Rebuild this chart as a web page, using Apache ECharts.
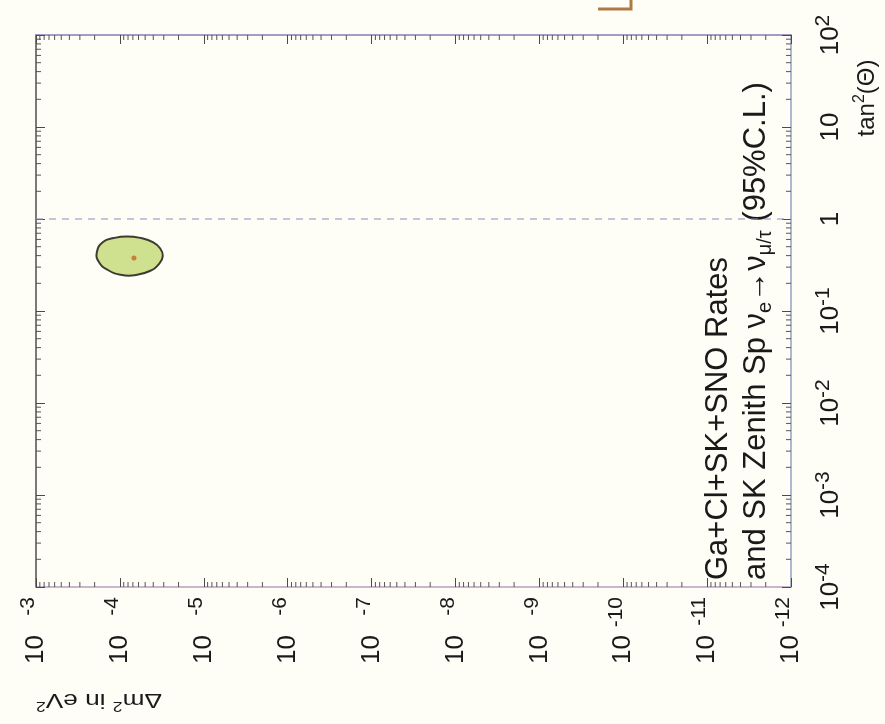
<!DOCTYPE html>
<html>
<head>
<meta charset="utf-8">
<script src="https://cdn.jsdelivr.net/npm/echarts@6/dist/echarts.min.js"></script>
<style>
  html, body { margin: 0; padding: 0; background: #fefdf6; }
  #chart { width: 885px; height: 724px; }
</style>
</head>
<body>
<div id="chart"></div>
<script>
// 95% C.L. allowed region (Δm² in eV², tan²θ), traced clockwise
const contourDm2  = [1.88e-4, 1.59e-4, 1.18e-4, 8.26e-5, 5.6e-5, 4.05e-5, 3.34e-5, 3.08e-5, 3.43e-5, 4.4e-5, 6.45e-5, 9.46e-5, 1.39e-4, 1.78e-4];
const contourTan2 = [0.437, 0.562, 0.621, 0.646, 0.621, 0.562, 0.484, 0.396, 0.324, 0.272, 0.246, 0.246, 0.279, 0.341];
// best-fit point
const bestFitDm2 = 6.8e-5;
const bestFitTan2 = 0.377;
// maximal mixing reference line
const maximalMixingTan2 = 1;
// axis ranges
const dm2Min = 1e-12, dm2Max = 1e-3;
const tan2Min = 1e-4, tan2Max = 1e2;
// tick labels: exponent -> [base, superscript]
const dm2TickLabels = {
  '-3': ['10', '-3'], '-4': ['10', '-4'], '-5': ['10', '-5'], '-6': ['10', '-6'], '-7': ['10', '-7'],
  '-8': ['10', '-8'], '-9': ['10', '-9'], '-10': ['10', '-10'], '-11': ['10', '-11'], '-12': ['10', '-12']
};
const tan2TickLabels = {
  '-4': ['10', '-4'], '-3': ['10', '-3'], '-2': ['10', '-2'], '-1': ['10', '-1'],
  '0': ['1', ''], '1': ['10', ''], '2': ['10', '2']
};
const minorMultipliers = [2, 3, 4, 5, 6, 7, 8, 9];

const FONT = '"Liberation Sans", Arial, Helvetica, sans-serif';

// minor tick values on a log axis between two decades
function minorValues(lo, hi) {
  const out = [];
  for (let e = Math.round(Math.log10(lo)); e < Math.round(Math.log10(hi)); e++) {
    minorMultipliers.forEach(m => out.push(m * Math.pow(10, e)));
  }
  return out;
}
const dm2Minor = minorValues(dm2Min, dm2Max);
const tan2Minor = minorValues(tan2Min, tan2Max);

function labelText(table, v) {
  const key = String(Math.round(Math.log10(v)));
  const l = table[key];
  if (!l) return '';
  return '{b|' + l[0] + '}' + (l[1] ? '{s|' + l[1] + '}' : '');
}

const chart = echarts.init(document.getElementById('chart'), null, { renderer: 'canvas' });

const tickStyle = { color: '#4a4a4a', width: 1 };
const INK = '#1a1a1a';

const option = {
  backgroundColor: '#fefdf6',
  animation: false,
  grid: { left: 36, right: 94, top: 35, bottom: 137 },
  xAxis: [
    {
      type: 'log', min: dm2Min, max: dm2Max, inverse: true, position: 'bottom',
      splitNumber: 9, splitLine: { show: false },
      axisLine: { lineStyle: { color: '#b99cc4', width: 1.5 } },
      axisTick: { inside: true, length: 9, lineStyle: tickStyle },
      axisLabel: {
        rotate: 90, margin: 10, showMinLabel: true, showMaxLabel: true,
        fontSize: 26, fontFamily: FONT, color: INK,
        formatter: v => labelText(dm2TickLabels, v),
        rich: {
          b: { fontSize: 26, lineHeight: 36, fontFamily: FONT, color: INK },
          s: { fontSize: 21, lineHeight: 22, verticalAlign: 'top', width: 38, align: 'right', fontFamily: FONT, color: INK }
        }
      }
    },
    {
      type: 'log', min: dm2Min, max: dm2Max, inverse: true, position: 'top',
      splitNumber: 9, splitLine: { show: false },
      axisLine: { lineStyle: { color: '#877cb6', width: 1.5 } },
      axisTick: { inside: true, length: 9, lineStyle: tickStyle },
      axisLabel: { show: false }
    }
  ],
  yAxis: [
    {
      type: 'log', min: tan2Min, max: tan2Max, position: 'right',
      splitNumber: 6, splitLine: { show: false },
      axisLine: { lineStyle: { color: '#98a0bc', width: 1.5 } },
      axisTick: { inside: true, length: 9, lineStyle: tickStyle },
      axisLabel: {
        rotate: 90, margin: 22, showMinLabel: true, showMaxLabel: true,
        fontSize: 26, fontFamily: FONT, color: INK,
        formatter: v => labelText(tan2TickLabels, v),
        rich: {
          b: { fontSize: 26, lineHeight: 36, fontFamily: FONT, color: INK },
          s: { fontSize: 21, lineHeight: 22, verticalAlign: 'top', fontFamily: FONT, color: INK }
        }
      }
    },
    {
      type: 'log', min: tan2Min, max: tan2Max, position: 'left',
      splitNumber: 6, splitLine: { show: false },
      axisLine: { lineStyle: { color: '#4e4e4e', width: 1.5 } },
      axisTick: { inside: true, length: 9, lineStyle: tickStyle },
      axisLabel: { show: false }
    }
  ],
  series: [
    {
      // minor ticks along the Δm² axis (bottom and top edges)
      type: 'custom', silent: true, clip: false,
      xAxisIndex: 0, yAxisIndex: 0,
      data: dm2Minor.map(v => [v, tan2Min]),
      renderItem: (params, api) => {
        const v = api.value(0);
        const b = api.coord([v, tan2Min]);
        const t = api.coord([v, tan2Max]);
        return {
          type: 'group',
          children: [
            { type: 'line', shape: { x1: b[0], y1: b[1], x2: b[0], y2: b[1] - 5 }, style: { stroke: '#555', lineWidth: 1 } },
            { type: 'line', shape: { x1: t[0], y1: t[1], x2: t[0], y2: t[1] + 5 }, style: { stroke: '#555', lineWidth: 1 } }
          ]
        };
      }
    },
    {
      // minor ticks along the tan²θ axis (left and right edges)
      type: 'custom', silent: true, clip: false,
      xAxisIndex: 0, yAxisIndex: 0,
      data: tan2Minor.map(v => [dm2Max, v]),
      renderItem: (params, api) => {
        const v = api.value(1);
        const l = api.coord([dm2Max, v]);
        const r = api.coord([dm2Min, v]);
        return {
          type: 'group',
          children: [
            { type: 'line', shape: { x1: l[0], y1: l[1], x2: l[0] + 5, y2: l[1] }, style: { stroke: '#555', lineWidth: 1 } },
            { type: 'line', shape: { x1: r[0], y1: r[1], x2: r[0] - 5, y2: r[1] }, style: { stroke: '#555', lineWidth: 1 } }
          ]
        };
      }
    },
    {
      // tan²θ = 1
      type: 'line', silent: true, symbol: 'none',
      xAxisIndex: 0, yAxisIndex: 0,
      data: [[dm2Max, maximalMixingTan2], [dm2Min, maximalMixingTan2]],
      lineStyle: { color: '#8f89bd', width: 1, type: [7, 6] }
    },
    {
      // allowed region
      type: 'custom', silent: true,
      xAxisIndex: 0, yAxisIndex: 0,
      data: [[bestFitDm2, bestFitTan2]],
      renderItem: (params, api) => {
        const pts = contourDm2.map((d, i) => api.coord([d, contourTan2[i]]));
        return {
          type: 'polygon',
          shape: { points: pts, smooth: 0.5 },
          style: { fill: '#cfe08f', stroke: '#3c3c30', lineWidth: 2 }
        };
      }
    },
    {
      // best fit
      type: 'scatter', silent: true,
      xAxisIndex: 0, yAxisIndex: 0,
      data: [[bestFitDm2, bestFitTan2]],
      symbolSize: 5,
      itemStyle: { color: '#c8661e' }
    }
  ],
  graphic: [
    {
      type: 'text', x: 699, y: 580, rotation: Math.PI / 2,
      style: {
        text: '{t|Ga+Cl+SK+SNO Rates}\n{t|and SK Zenith Sp ν}{sub|e}{t|→ν}{sub|μ/τ}{t| (95%C.L.)}',
        align: 'left', verticalAlign: 'top', textAlign: 'left', textVerticalAlign: 'top',
        rich: {
          t: { fontFamily: FONT, fontSize: 31, lineHeight: 38, fill: INK, color: INK },
          sub: { fontFamily: FONT, fontSize: 20, lineHeight: 20, verticalAlign: 'bottom', fill: INK, color: INK }
        }
      }
    },
    {
      type: 'text', x: 852, y: 98, rotation: Math.PI / 2,
      style: {
        text: '{t|tan}{s|2}{t|(Θ)}',
        align: 'center', verticalAlign: 'top', textAlign: 'center', textVerticalAlign: 'top',
        rich: {
          t: { fontFamily: FONT, fontSize: 24, lineHeight: 30, fill: INK, color: INK },
          s: { fontFamily: FONT, fontSize: 16, lineHeight: 16, verticalAlign: 'top', fill: INK, color: INK }
        }
      }
    },
    {
      type: 'text', x: 162, y: 713, rotation: Math.PI, scaleX: 1.25,
      style: {
        text: '{t|Δm}{s|2}{t| in eV}{s|2}',
        align: 'left', verticalAlign: 'top', textAlign: 'left', textVerticalAlign: 'top',
        rich: {
          t: { fontFamily: FONT, fontSize: 21, lineHeight: 26, fill: INK, color: INK },
          s: { fontFamily: FONT, fontSize: 14, lineHeight: 14, verticalAlign: 'top', fill: INK, color: INK }
        }
      }
    },
    {
      type: 'polyline',
      shape: { points: [[598, 9], [631, 9], [631, -2]] },
      style: { stroke: '#b07a44', lineWidth: 3, fill: null }
    }
  ]
};

chart.setOption(option);
</script>
</body>
</html>
